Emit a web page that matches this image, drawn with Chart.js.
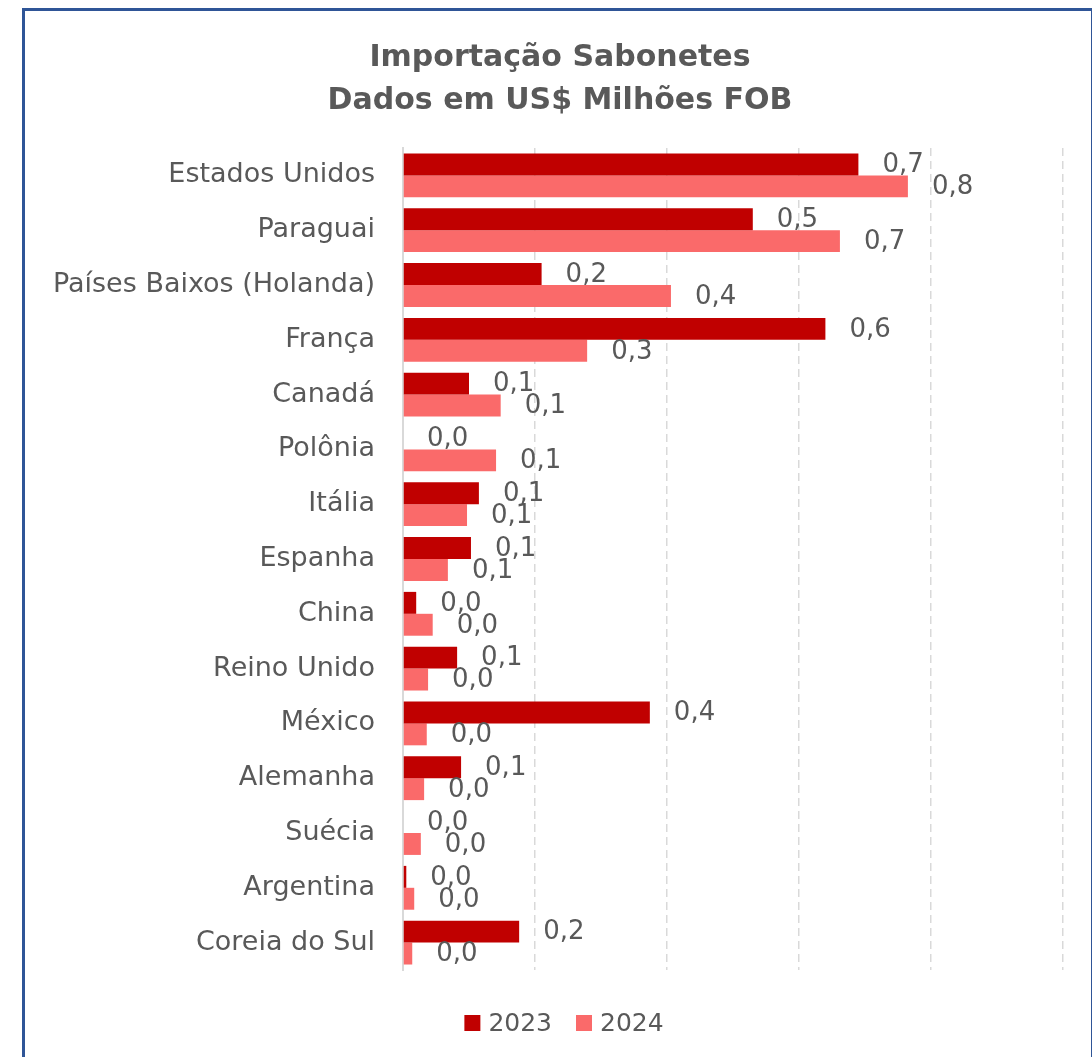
<!DOCTYPE html>
<html>
<head>
<meta charset="utf-8">
<script src="https://cdn.jsdelivr.net/npm/chart.js@4.4.1/dist/chart.umd.min.js"></script>
<style>
  html, body { margin: 0; padding: 0; background: #fff; }
  #frame {
    position: absolute; left: 22px; top: 8px;
    width: 1066px; height: 1100px;
    border: 3px solid #2F5597;
  }
  #wrap { position: absolute; left: 0; top: 0; width: 1092px; height: 1057px; }
</style>
</head>
<body>
<div id="frame"></div>
<div id="wrap"><canvas id="importChart"></canvas></div>
<script>
// Chart data
const countries = ['Estados Unidos', 'Paraguai', 'Países Baixos (Holanda)', 'França', 'Canadá',
    'Polônia', 'Itália', 'Espanha', 'China', 'Reino Unido', 'México', 'Alemanha', 'Suécia',
    'Argentina', 'Coreia do Sul'];
const values2023 = [0.69, 0.53, 0.21, 0.64, 0.10, 0.0, 0.115, 0.103, 0.02, 0.082, 0.374, 0.088, 0.0, 0.005, 0.176];
const values2024 = [0.765, 0.662, 0.406, 0.279, 0.148, 0.141, 0.097, 0.068, 0.045, 0.038, 0.036, 0.032, 0.027, 0.017, 0.014];
const seriesNames = ['2023', '2024'];
const seriesColors = ['#C00000', '#FA6A6A'];
const titleLines = ['Importação Sabonetes', 'Dados em US$ Milhões FOB'];

const textColor = '#595959';
const fontFamily = "'DejaVu Sans', sans-serif";

// Title, centred on the frame rather than the chart area
const titleText = {
    id: 'titleText',
    afterDraw(chart) {
        const ctx = chart.ctx;
        ctx.save();
        ctx.font = 'bold 30px ' + fontFamily;
        ctx.fillStyle = textColor;
        ctx.textAlign = 'center';
        ctx.textBaseline = 'alphabetic';
        ctx.fillText(titleLines[0], 560, 66);
        ctx.fillText(titleLines[1], 560, 109);
        ctx.restore();
    }
};

// Legend drawn by hand so it can sit centred on the frame
const bottomLegend = {
    id: 'bottomLegend',
    afterDraw(chart) {
        const ctx = chart.ctx;
        ctx.save();
        ctx.font = '25px ' + fontFamily;
        ctx.textBaseline = 'middle';
        ctx.textAlign = 'left';
        const box = 16, gapText = 8, gapItem = 24;
        const widths = chart.data.datasets.map(ds => box + gapText + ctx.measureText(ds.label).width);
        const total = widths.reduce((a, b) => a + b, 0) + gapItem * (widths.length - 1);
        let x = 564 - total / 2;
        const y = 1023;
        chart.data.datasets.forEach((ds, i) => {
            ctx.fillStyle = ds.backgroundColor;
            ctx.fillRect(x, y - box / 2, box, box);
            ctx.fillStyle = textColor;
            ctx.fillText(ds.label, x + box + gapText, y + 1);
            x += widths[i] + gapItem;
        });
        ctx.restore();
    }
};

// Value labels to the right of each bar
const valueLabels = {
    id: 'valueLabels',
    afterDatasetsDraw(chart) {
        const ctx = chart.ctx;
        ctx.save();
        ctx.font = '26px ' + fontFamily;
        ctx.fillStyle = textColor;
        ctx.textBaseline = 'middle';
        ctx.textAlign = 'left';
        chart.data.datasets.forEach((ds, i) => {
            const meta = chart.getDatasetMeta(i);
            meta.data.forEach((bar, j) => {
                const txt = ds.data[j].toFixed(1).replace('.', ',');
                ctx.fillText(txt, bar.x + 24, bar.y + 1);
            });
        });
        ctx.restore();
    }
};

const ctx = document.getElementById('importChart');
new Chart(ctx, {
    type: 'bar',
    data: {
        labels: countries,
        datasets: [
            { label: seriesNames[0], data: values2023, backgroundColor: seriesColors[0] },
            { label: seriesNames[1], data: values2024, backgroundColor: seriesColors[1] }
        ]
    },
    options: {
        indexAxis: 'y',
        responsive: true,
        maintainAspectRatio: false,
        animation: false,
        categoryPercentage: 0.8,
        barPercentage: 1.0,
        layout: { padding: { left: 0, right: 29, top: 148, bottom: 87 } },
        plugins: {
            title: { display: false },
            legend: { display: false },
            tooltip: { enabled: false }
        },
        scales: {
            x: {
                min: 0,
                max: 1.0,
                ticks: { display: false, stepSize: 0.2 },
                grid: { color: '#D9D9D9', lineWidth: 1.5, drawTicks: false },
                border: { display: false, dash: [8, 5] },
                afterFit(scale) { scale.height = 0; }
            },
            y: {
                ticks: {
                    color: textColor,
                    font: { family: fontFamily, size: 27 },
                    padding: 28
                },
                grid: { display: false, drawTicks: false },
                border: { display: true, color: '#D9D9D9', width: 2 },
                afterFit(scale) { scale.width = 403; }
            }
        }
    },
    plugins: [valueLabels, titleText, bottomLegend]
});
</script>
</body>
</html>
